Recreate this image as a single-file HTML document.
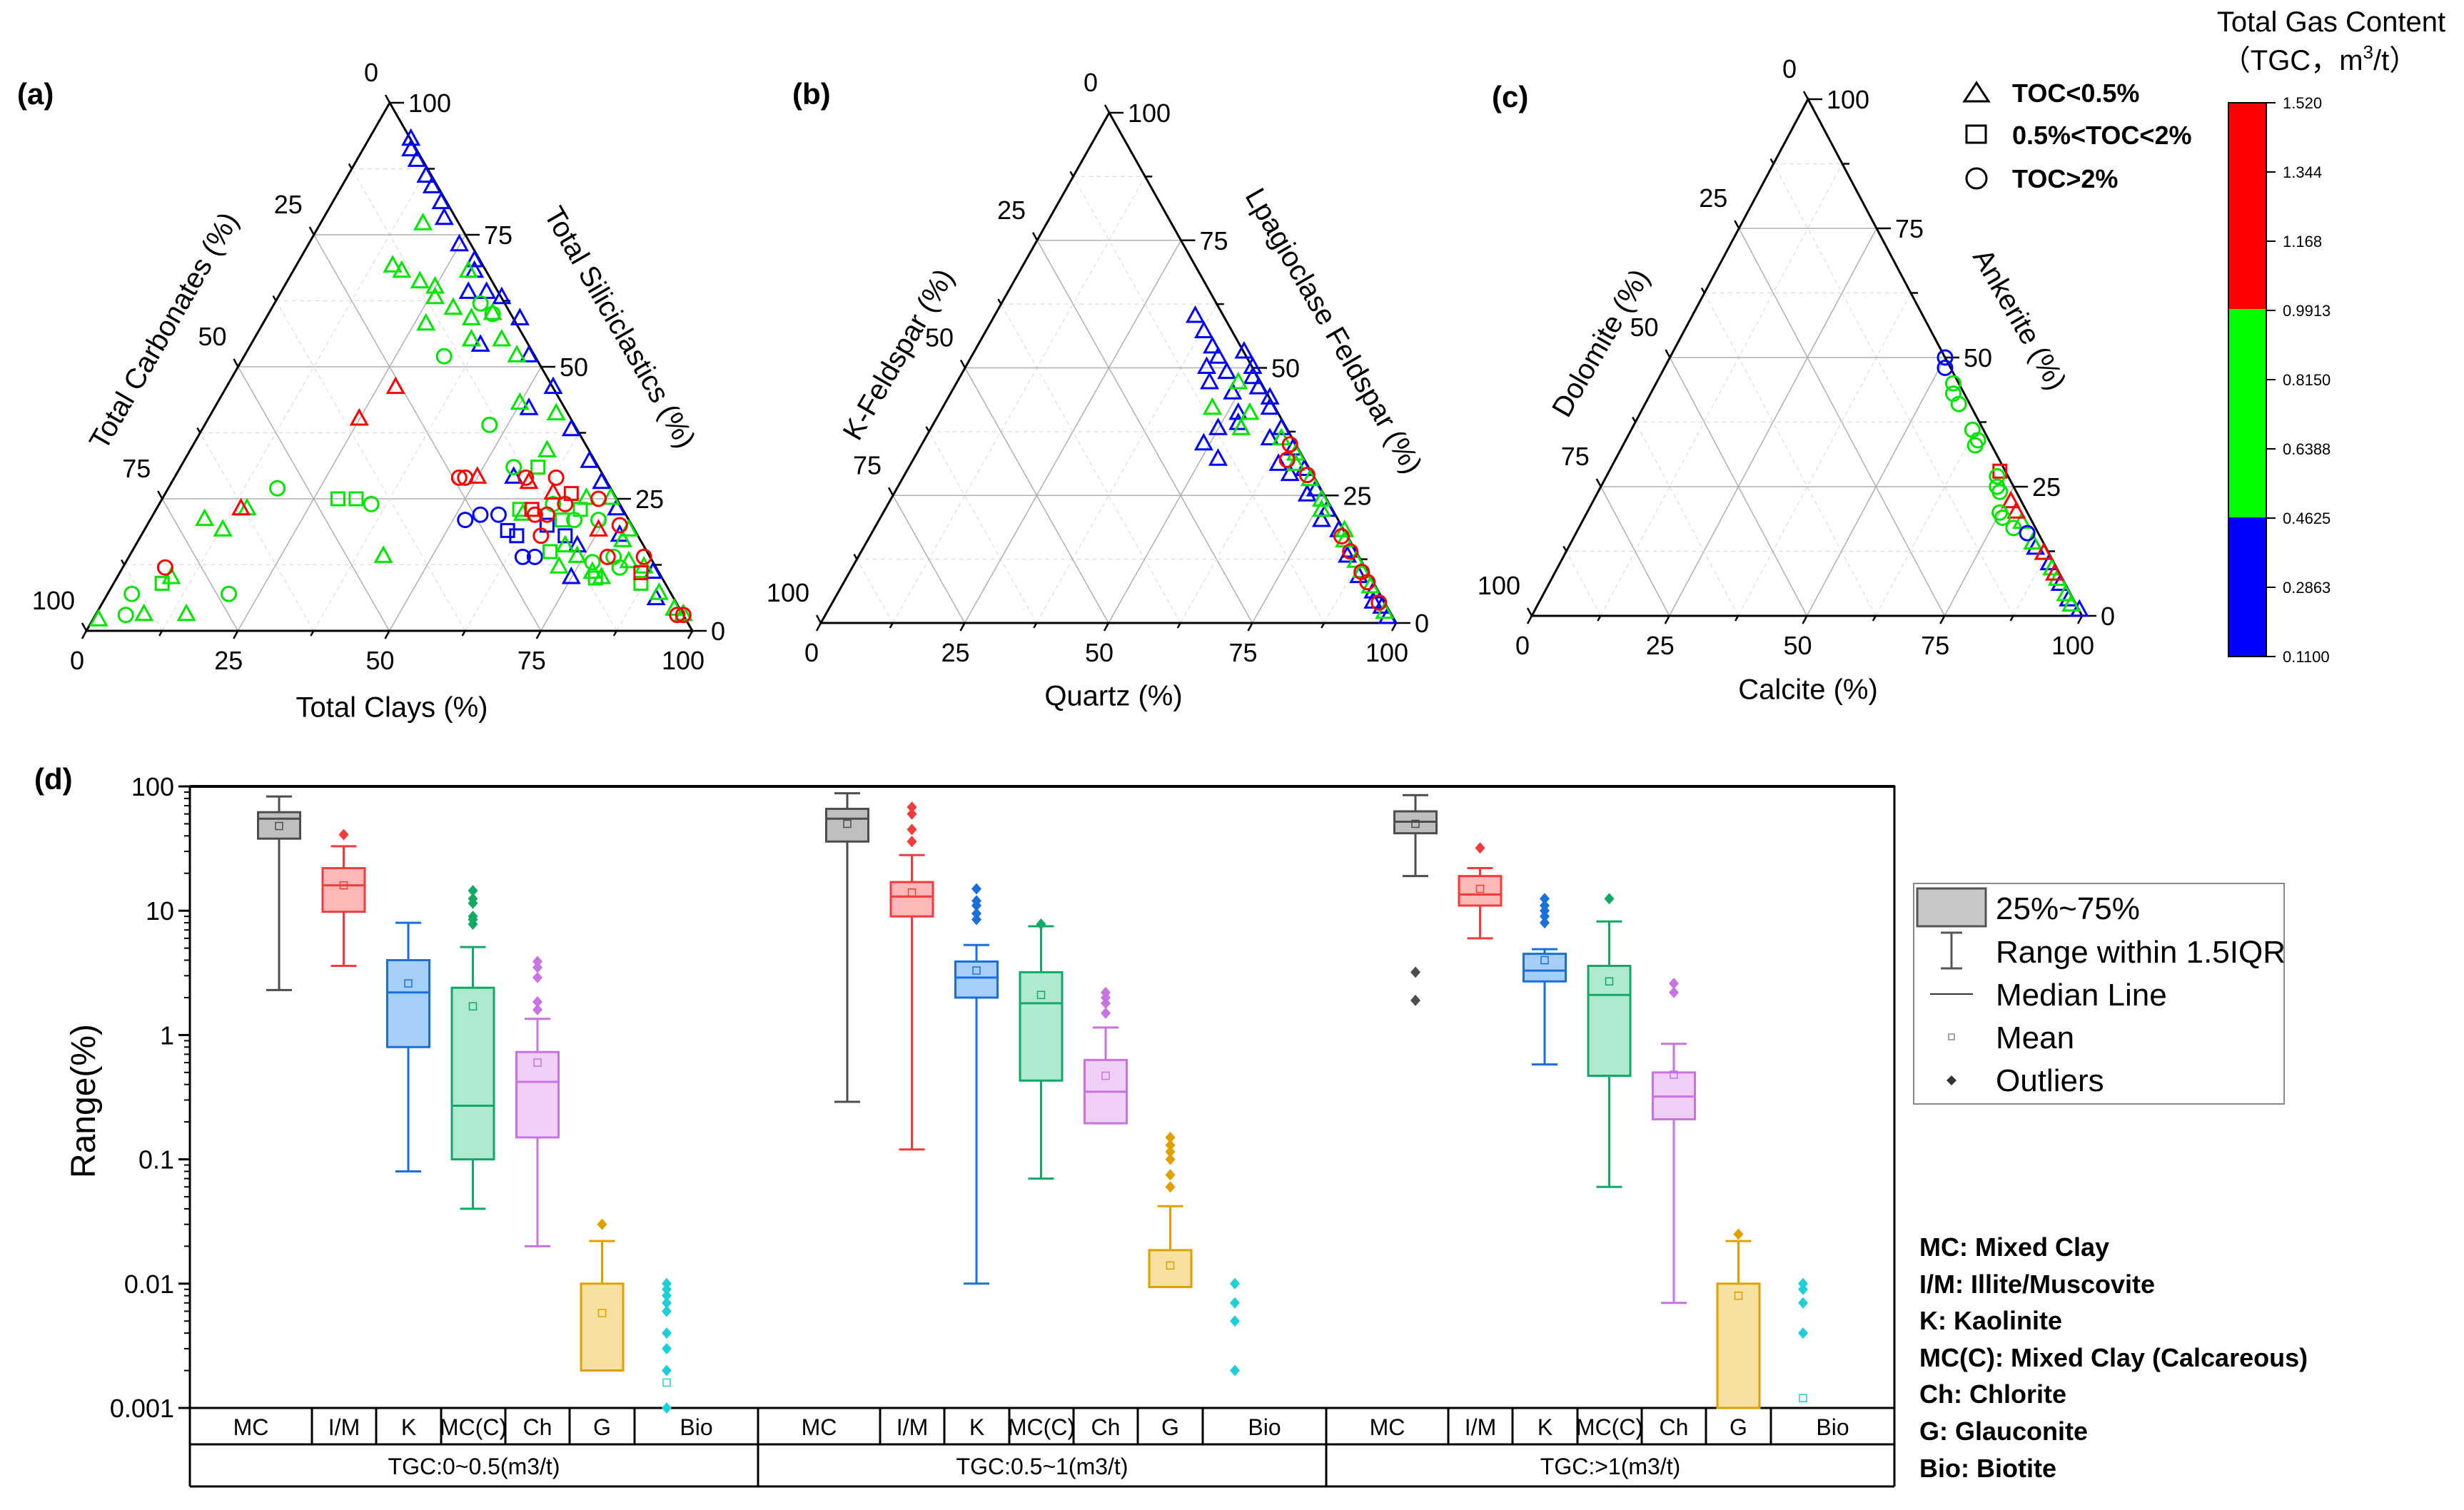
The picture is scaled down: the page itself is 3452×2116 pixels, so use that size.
<!DOCTYPE html>
<html><head><meta charset="utf-8"><style>
html,body{margin:0;padding:0;background:#fff;}
svg{display:block;font-family:"Liberation Sans",Arial,sans-serif;}
</style></head><body>
<svg id="fig" width="3452" height="2116" viewBox="0 0 3452 2116" xmlns="http://www.w3.org/2000/svg">
<rect width="3452" height="2116" fill="#fff"/>
<g id="tern"></g>
<g id="box"></g>
<!-- panel labels -->
<text x="24" y="146" font-size="42" font-weight="bold">(a)</text>
<text x="1110" y="146" font-size="42" font-weight="bold">(b)</text>
<text x="2090" y="150" font-size="42" font-weight="bold">(c)</text>
<text x="48" y="1106" font-size="42" font-weight="bold">(d)</text>
<!-- TOC legend -->
<g font-size="36" font-weight="bold">
<polygon points="2769,116 2786,142 2752,142" fill="none" stroke="#000" stroke-width="3"/>
<text x="2819" y="143">TOC&lt;0.5%</text>
<rect x="2755" y="176" width="27" height="24" fill="none" stroke="#000" stroke-width="3"/>
<text x="2819" y="202">0.5%&lt;TOC&lt;2%</text>
<circle cx="2769" cy="250" r="14" fill="none" stroke="#000" stroke-width="3"/>
<text x="2819" y="263">TOC&gt;2%</text>
</g>
<!-- colorbar -->
<g>
<text x="3266" y="44" font-size="40" text-anchor="middle">Total Gas Content</text>
<text x="3250" y="98" font-size="40" text-anchor="middle" font-family="'Liberation Sans','Noto Sans CJK SC',sans-serif">（TGC，m<tspan font-size="26" dy="-16">3</tspan><tspan dy="16">/t）</tspan></text>
<rect x="3122" y="144" width="53" height="289" fill="#ff0000"/>
<rect x="3122" y="433" width="53" height="292" fill="#00ff00"/>
<rect x="3122" y="725" width="53" height="195" fill="#0000ff"/>
<rect x="3122" y="144" width="53" height="776" fill="none" stroke="#000" stroke-width="2"/>
<g id="cbticks" font-size="22"></g>
</g>
<!-- box legend -->
<g>
<rect x="2681" y="1238" width="519" height="309" fill="#fff" stroke="#888" stroke-width="2"/>
<rect x="2686" y="1245" width="96" height="53" fill="#c8c8c8" stroke="#555" stroke-width="3"/>
<line x1="2734" y1="1307" x2="2734" y2="1357" stroke="#555" stroke-width="3"/>
<line x1="2719" y1="1307" x2="2749" y2="1307" stroke="#555" stroke-width="3"/>
<line x1="2719" y1="1357" x2="2749" y2="1357" stroke="#555" stroke-width="3"/>
<line x1="2704" y1="1393" x2="2764" y2="1393" stroke="#333" stroke-width="2"/>
<rect x="2730" y="1449" width="8" height="8" fill="none" stroke="#888" stroke-width="1.5"/>
<polygon points="2734,1507 2741,1514 2734,1521 2727,1514" fill="#333"/>
<g font-size="44">
<text x="2796" y="1288">25%~75%</text>
<text x="2796" y="1349">Range within 1.5IQR</text>
<text x="2796" y="1409">Median Line</text>
<text x="2796" y="1469">Mean</text>
<text x="2796" y="1529">Outliers</text>
</g>
</g>
<g font-size="36" font-weight="bold">
<text x="2689" y="1760">MC: Mixed Clay</text>
<text x="2689" y="1812">I/M: Illite/Muscovite</text>
<text x="2689" y="1863">K: Kaolinite</text>
<text x="2689" y="1915">MC(C): Mixed Clay (Calcareous)</text>
<text x="2689" y="1966">Ch: Chlorite</text>
<text x="2689" y="2018">G: Glauconite</text>
<text x="2689" y="2070">Bio: Biotite</text>
</g>
</svg>
<script>
// ===== Ternary data: [apexComponent%, rightComponent%] =====
// (a) apex = Total Siliciclastics, right = Total Clays
const aBlueTri = [[93,7],[89,10],[86,13],[84,15],[81,18],[78,20],[73,25],[68,30],[64,34],[63,37],[59,42],[64,31],[54,38],[52,47],[46,54],[42,52],[38,61],[32,67],[28,71],[23,76],[29,56],[18,79],[11,88],[6,91],[10,75],[16,73],[91,8],[70,29]];
const aBlueCirc = [[21,52],[22,54],[14,65],[14,67],[22,57]];
const aBlueSq = [[19,60],[18,62],[20,66],[18,70]];
const aGreenTri = [[77,17],[69,16],[68,18],[66,22],[65,25],[63,26],[61,30],[59,34],[58,27],[55,36],[55,41],[68,29],[60,37],[52,45],[43,50],[41,57],[34,59],[25,70],[25,74],[19,80],[17,80],[16,71],[14,74],[10,80],[12,72],[13,83],[7,91],[4,95],[3,97],[21,9],[19,13],[23,15],[14,42],[10,9],[3,8],[3,15],[2,1],[22,61],[11,78],[12,86]];
const aGreenCirc = [[62,34],[60,37],[52,33],[39,47],[31,55],[27,18],[24,35],[7,4],[3,5],[7,20],[24,65],[21,70],[21,74],[14,80],[12,82],[13,77]];
const aGreenSq = [[31,59],[25,29],[25,32],[23,60],[21,68],[23,70],[15,69],[9,87],[10,79],[9,8]];
const aRedTri = [[46,28],[40,25],[29,50],[28,59],[26,64],[23,14],[19,75]];
const aRedCirc = [[29,47],[29,48],[29,58],[29,63],[25,72],[22,63],[22,65],[18,66],[24,67],[20,78],[14,85],[14,79],[12,7],[3,97],[3,96]];
const aRedSq = [[23,62],[26,67],[11,86]];
// (b) apex = Plagioclase, right = Quartz
const bBlueTri = [[60,35],[57,38],[54,41],[52,43],[49,46],[50,42],[47,44],[38,50],[35,49],[32,53],[45,49],[53,47],[50,50],[41,52],[39,53],[44,56],[36,60],[31,64],[29,67],[25,72],[20,77],[13,85],[9,89],[4,94],[1,98],[48,51],[46,53],[42,57],[38,61],[34,65],[30,69],[26,73],[22,77],[18,81],[14,85],[10,89],[6,93],[3,96]];
const bGreenTri = [[42,47],[47,49],[41,54],[38,54],[31,67],[28,71],[22,76],[18,82],[10,89],[36,62],[33,66],[24,75],[16,83],[12,87],[7,92],[2,97]];
const bRedCirc = [[35,64],[32,65],[29,70],[17,82],[14,85],[10,89],[4,95],[8,91]];
// (c) apex = Ankerite, right = Calcite
const cBlueCirc = [[50,50],[48,51],[16,82]];
const cGreenCirc = [[45,54],[43,55],[41,57],[36,62],[34,64],[33,64],[27,71],[25,72],[24,73],[20,75],[19,76],[17,79]];
const cRedSq = [[28,71]];
const cRedTri = [[22,76],[20,78],[12,87],[8,91]];
const cBlueTri = [[13,85],[10,89],[6,93],[3,96],[1,99]];
const cGreenTri = [[18,80],[14,84],[12,87],[9,90],[7,92],[4,95],[2,97]];

// ===== Box plot data =====
const cats = ["MC","I/M","K","MC(C)","Ch","G","Bio"];
const groups = ["TGC:0~0.5(m3/t)","TGC:0.5~1(m3/t)","TGC:>1(m3/t)"];
const yTicks = ["100","10","1","0.1","0.01","0.001"];
const whiskLo = [[2.3,3.6,0.08,0.04,0.02,0.002,null],[0.29,0.12,0.01,0.07,0.195,0.0094,null],[19,6,0.58,0.06,0.007,0.001,null]];
const q1 = [[38,9.8,0.8,0.1,0.15,0.002,null],[36,9,2,0.43,0.195,0.0094,null],[42,11,2.7,0.47,0.21,0.001,null]];
const median = [[55,16,2.2,0.27,0.42,0.002,null],[55,13,2.9,1.8,0.35,0.0094,null],[52,13.5,3.3,2.1,0.32,0.001,null]];
const q3 = [[62,22,4,2.4,0.73,0.01,null],[66,17,3.9,3.2,0.63,0.0186,null],[63,19,4.5,3.6,0.5,0.01,null]];
const whiskHi = [[83,33,8,5.1,1.35,0.022,null],[88,28,5.3,7.5,1.15,0.042,null],[85,22,4.9,8.2,0.85,0.022,null]];
const means = [[48,16,2.6,1.7,0.6,0.0058,0.0016],[50,14,3.3,2.1,0.47,0.014,null],[50,15,4,2.7,0.48,0.008,0.0012]];
const outliers = [
 [[],[41],[],[7.8,8.5,9,11.5,12.5,14.5],[1.6,1.85,2.9,3.5,3.9],[0.03],[0.01,0.009,0.008,0.007,0.006,0.004,0.003,0.002,0.001]],
 [[],[36,45,60,68],[8.5,9.5,11,12,15],[7.8],[1.5,1.8,2,2.2],[0.06,0.075,0.1,0.115,0.13,0.15],[0.01,0.007,0.005,0.002]],
 [[3.2,1.9],[32],[8,9,10,11,12.5],[12.5],[2.2,2.6],[0.025],[0.01,0.009,0.007,0.004]]
];
const cbLabels = ["1.520","1.344","1.168","0.9913","0.8150","0.6388","0.4625","0.2863","0.1100"];

const NS="http://www.w3.org/2000/svg";
function mk(tag,attrs,parent){const e=document.createElementNS(NS,tag);for(const k in attrs)e.setAttribute(k,attrs[k]);parent.appendChild(e);return e;}

// colorbar ticks
const cbg=document.getElementById('cbticks');
cbLabels.forEach((l,i)=>{
  const y=144+i*(776/(cbLabels.length-1));
  const ln=mk('line',{x1:3175,x2:3188,y1:y,y2:y,stroke:'#000','stroke-width':2},cbg);
  
  
  const t=mk('text',{x:3198,y:y+8},cbg);
  
  
  t.textContent=l;
});

// ===== Ternary drawing =====
const COL={b:'#0000ff',g:'#00e600',r:'#ff0000'};
function ternary(def){
  const g=mk('g',{},document.getElementById('tern'));
  
  
  const A=def.A,L=def.L,R=def.R;
  const P=(t,r)=>{const l=1-t-r;return [A[0]*t+R[0]*r+L[0]*l, A[1]*t+R[1]*r+L[1]*l];};
  for(let k=1;k<8;k++){
    const v=k/8, major=(k%2===0);
    const st=major?{stroke:'#b0b0b0','stroke-width':1.5}:{stroke:'#dcdcdc','stroke-width':1.2,'stroke-dasharray':'6,5'};
    const segs=[[P(v,0),P(v,1-v)],[P(0,v),P(1-v,v)],[P(0,1-v),P(1-v,0)]];
    segs.forEach(s=>{const ln=mk('line',Object.assign({x1:s[0][0],y1:s[0][1],x2:s[1][0],y2:s[1][1]},st),g);
      });
  }
  const tri=mk('polygon',{points:[A,L,R].map(p=>p.join(',')).join(' '),fill:'none',stroke:'#000','stroke-width':3},g);
  
  for(let k=0;k<=8;k++){
    const v=k/8, major=(k%2===0);
    let p=P(v,1-v);
    mk('line',{x1:p[0],y1:p[1],x2:p[0]+(major?20:10),y2:p[1],stroke:'#000','stroke-width':2.5},g);
    p=P(0,v);
    mk('line',{x1:p[0],y1:p[1],x2:p[0]-(major?6:4),y2:p[1]+(major?11:7),stroke:'#000','stroke-width':2.5},g);
    p=P(1-v,0);
    mk('line',{x1:p[0],y1:p[1],x2:p[0]-(major?6:4),y2:p[1]-(major?11:7),stroke:'#000','stroke-width':2.5},g);
    if(major){
      const lab=String(v*100);
      p=P(v,1-v);
      let t=mk('text',{x:p[0]+26,y:p[1]+13,'font-size':36},g);
      t.textContent=lab;
      p=P(0,v);
      t=mk('text',{x:p[0]-13,y:p[1]+54,'font-size':36,'text-anchor':'middle'},g);
      t.textContent=lab;
      p=P(1-v,0);
      t=mk('text',{x:p[0]-16,y:p[1]-30,'font-size':36,'text-anchor':'end'},g);
      t.textContent=lab;
    }
  }
  [[def.leftTitle,def.lt,-60,'left-axis-title'],[def.rightTitle,def.rt,60,'right-axis-title'],[def.bottomTitle,def.bt,0,'bottom-axis-title']].forEach(o=>{
    const t=mk('text',{x:o[1][0],y:o[1][1],'font-size':40,'text-anchor':'middle','dominant-baseline':'middle',transform:`rotate(${o[2]} ${o[1][0]} ${o[1][1]})`},g);
    t.textContent=o[0];
  });
  def.series.forEach(s=>{
    s.data.forEach(d=>{
      const p=P(d[0]/100,d[1]/100);let e;
      const st={fill:'none',stroke:COL[s.c],'stroke-width':3};
      if(s.m==='t') e=mk('polygon',Object.assign({points:`${p[0]},${p[1]-13} ${p[0]+11},${p[1]+7} ${p[0]-11},${p[1]+7}`},st),g);
      else if(s.m==='s') e=mk('rect',Object.assign({x:p[0]-9,y:p[1]-9,width:18,height:18},st),g);
      else e=mk('circle',Object.assign({cx:p[0],cy:p[1],r:10},st),g);
      
      
    });
  });
}
ternary({name:'ternary-a',A:[546,144],L:[121,884],R:[970,884],
  leftTitle:'Total Carbonates (%)',lt:[232,465],rightTitle:'Total Siliciclastics (%)',rt:[866,460],bottomTitle:'Total Clays (%)',bt:[549,994],
  series:[{data:aBlueTri,c:'b',m:'t'},{data:aBlueCirc,c:'b',m:'c'},{data:aBlueSq,c:'b',m:'s'},{data:aGreenTri,c:'g',m:'t'},{data:aGreenCirc,c:'g',m:'c'},{data:aGreenSq,c:'g',m:'s'},{data:aRedTri,c:'r',m:'t'},{data:aRedCirc,c:'r',m:'c'},{data:aRedSq,c:'r',m:'s'}]});
ternary({name:'ternary-b',A:[1554,158],L:[1150,873],R:[1956,873],
  leftTitle:'K-Feldspar (%)',lt:[1261,498],rightTitle:'Lpagioclase Feldspar (%)',rt:[1866,465],bottomTitle:'Quartz (%)',bt:[1560,978],
  series:[{data:bBlueTri,c:'b',m:'t'},{data:bGreenTri,c:'g',m:'t'},{data:bRedCirc,c:'r',m:'c'}]});
ternary({name:'ternary-c',A:[2533,139],L:[2146,863],R:[2917,863],
  leftTitle:'Dolomite (%)',lt:[2245,482],rightTitle:'Ankerite (%)',rt:[2827,449],bottomTitle:'Calcite (%)',bt:[2533,969],
  series:[{data:cBlueTri,c:'b',m:'t'},{data:cGreenTri,c:'g',m:'t'},{data:cRedTri,c:'r',m:'t'},{data:cRedSq,c:'r',m:'s'},{data:cGreenCirc,c:'g',m:'c'},{data:cBlueCirc,c:'b',m:'c'}]});

// ===== Box plot =====
const bx=document.getElementById('box');
const X0=266,X1=2654,YT=1102,YB=1973,DEC=(YB-YT)/5,GW=(X1-X0)/3;
const y=v=>YT+(2-Math.log10(v))*DEC;
const STROKE=['#4d4d4d','#f23c3c','#1a6fdb','#12a865','#c774e0','#e0a000','#1fcfd8'];
const FILL=['#bfbfbf','#ffb8b8','#a6cff7','#aee9d0','#f0cff6','#f7e0a0','#c0f0f2'];
const cellEdges=[0,171,261,352,442,532,623,GW];
let e=mk('rect',{x:X0,y:YT,width:X1-X0,height:YB-YT,fill:'none',stroke:'#000','stroke-width':3},bx);

mk('line',{x1:X0,y1:YT,x2:X1,y2:YT,stroke:'#000','stroke-width':4},bx);
yTicks.forEach((lab,i)=>{
  const v=Math.pow(10,2-i), yy=y(v);
  mk('line',{x1:X0-16,x2:X0,y1:yy,y2:yy,stroke:'#000','stroke-width':3},bx);
  const t=mk('text',{x:X0-22,y:yy+13,'font-size':36,'text-anchor':'end'},bx);
  t.textContent=lab;
  if(i<5){for(let m=2;m<10;m++){const ym=y(v/10*m);mk('line',{x1:X0-8,x2:X0,y1:ym,y2:ym,stroke:'#000','stroke-width':2},bx);}}
});
e=mk('text',{x:133,y:1543,'font-size':48,'text-anchor':'middle',transform:'rotate(-90 133 1543)'},bx);
e.textContent='Range(%)';
mk('line',{x1:X0,y1:2024,x2:X1,y2:2024,stroke:'#000','stroke-width':3},bx);
mk('line',{x1:X0,y1:2083,x2:X1,y2:2083,stroke:'#000','stroke-width':3},bx);
mk('line',{x1:X0,y1:YB,x2:X0,y2:2083,stroke:'#000','stroke-width':3},bx);
groups.forEach((gname,gi)=>{
  const gx=X0+gi*GW;
  mk('line',{x1:gx+GW,y1:YB,x2:gx+GW,y2:2083,stroke:'#000','stroke-width':3},bx);
  const gt=mk('text',{x:gx+GW/2,y:2066,'font-size':32,'text-anchor':'middle'},bx);
  gt.textContent=gname;
  cats.forEach((c,ci)=>{
    if(ci>0) mk('line',{x1:gx+cellEdges[ci],y1:YB,x2:gx+cellEdges[ci],y2:2024,stroke:'#000','stroke-width':3},bx);
    const ct=mk('text',{x:gx+(cellEdges[ci]+cellEdges[ci+1])/2,y:2011,'font-size':32,'text-anchor':'middle'},bx);
    ct.textContent=c;
    const cx=gx+125+ci*90.5, hw=29.5, col=STROKE[ci];
    const bg=mk('g',{},bx);
    
    
    if(whiskLo[gi][ci]!==null){
      mk('line',{x1:cx,x2:cx,y1:y(whiskHi[gi][ci]),y2:y(q3[gi][ci]),stroke:col,'stroke-width':3},bg);
      mk('line',{x1:cx,x2:cx,y1:y(q1[gi][ci]),y2:y(whiskLo[gi][ci]),stroke:col,'stroke-width':3},bg);
      mk('line',{x1:cx-18,x2:cx+18,y1:y(whiskHi[gi][ci]),y2:y(whiskHi[gi][ci]),stroke:col,'stroke-width':3},bg);
      mk('line',{x1:cx-18,x2:cx+18,y1:y(whiskLo[gi][ci]),y2:y(whiskLo[gi][ci]),stroke:col,'stroke-width':3},bg);
      mk('rect',{x:cx-hw,y:y(q3[gi][ci]),width:hw*2,height:y(q1[gi][ci])-y(q3[gi][ci]),fill:FILL[ci],stroke:col,'stroke-width':3},bg);
      mk('line',{x1:cx-hw,x2:cx+hw,y1:y(median[gi][ci]),y2:y(median[gi][ci]),stroke:col,'stroke-width':3},bg);
    }
    if(means[gi][ci]!==null){const my=y(means[gi][ci]);mk('rect',{x:cx-5,y:my-5,width:10,height:10,fill:'none',stroke:col,'stroke-width':1.5},bg);}
    outliers[gi][ci].forEach(o=>{const oy=y(o);
      const d=mk('polygon',{points:`${cx},${oy-8} ${cx+7},${oy} ${cx},${oy+8} ${cx-7},${oy}`,fill:col},bg);
      });
  });
});
</script>
</body></html>
